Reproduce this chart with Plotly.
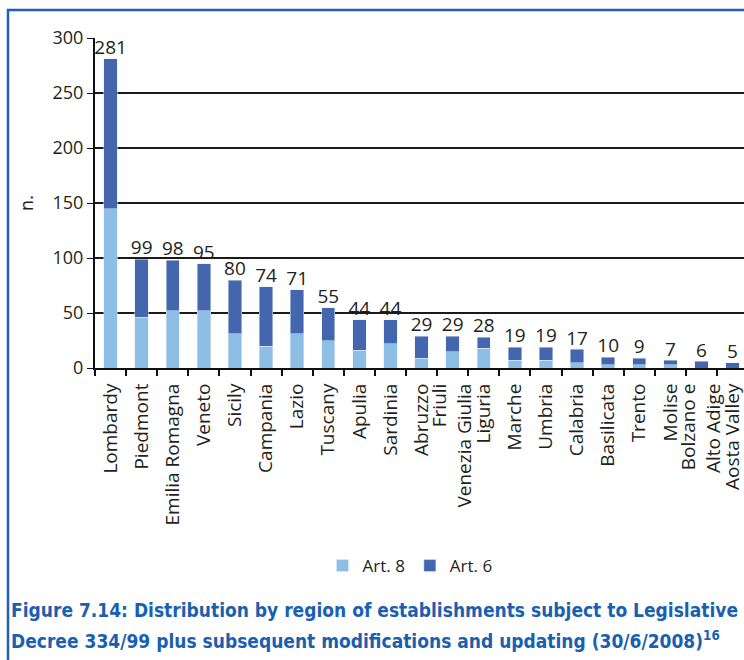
import plotly.graph_objects as go

regions = ["Lombardy", "Piedmont", "Emilia Romagna", "Veneto", "Sicily", "Campania",
           "Lazio", "Tuscany", "Apulia", "Sardinia", "Abruzzo", "Friuli<br>Venezia Giulia",
           "Liguria", "Marche", "Umbria", "Calabria", "Basilicata", "Trento", "Molise",
           "Bolzano e<br>Alto Adige", "Aosta Valley"]
totals = [281, 99, 98, 95, 80, 74, 71, 55, 44, 44, 29, 29, 28, 19, 19, 17, 10, 9, 7, 6, 5]
art8 = [145, 46, 52, 52, 31, 20, 31, 25, 16, 22, 9, 15, 18, 7, 7, 5, 3, 3, 3, 0, 0]
art6 = [t - a for t, a in zip(totals, art8)]
yticks = [0, 50, 100, 150, 200, 250, 300]

W, H = 744, 660
L, R, T, B = 95, 0, 38, 292
PW, PH = W - L - R, H - T - B

def px(x):
    return (x - L) / PW

def py(y):
    return (H - B - y) / PH

LIGHT = "#8dbee6"
DARK = "#4366af"
TXT = "#231f20"
FONT = "Open Sans"

fig = go.Figure()
fig.add_trace(go.Bar(x=regions, y=art8, name="Art. 8", marker_color=LIGHT, width=0.43))
fig.add_trace(go.Bar(x=regions, y=art6, name="Art. 6", marker_color=DARK, width=0.43))
fig.add_trace(go.Scatter(x=regions, y=totals, mode="text", text=[str(t) for t in totals],
                         textposition="top center", showlegend=False, hoverinfo="skip",
                         textfont=dict(size=19, color=TXT, family=FONT), cliponaxis=False))

fig.update_layout(
    width=W, height=H, barmode="stack",
    margin=dict(l=L, r=R, t=T, b=B),
    plot_bgcolor="white", paper_bgcolor="white",
    font=dict(family=FONT, color=TXT, size=16),
    legend=dict(orientation="h", x=px(410), xanchor="center", y=py(566), yanchor="middle",
                font=dict(size=17, family=FONT, color=TXT), traceorder="normal",
                itemwidth=30, tracegroupgap=0),
    showlegend=True,
)
fig.update_xaxes(range=[-0.5, -0.5 + PW / 31.1], tickangle=-90, tickson="boundaries",
                 ticks="outside", ticklen=6, tickcolor="#111", tickwidth=1.5,
                 showline=True, linecolor="#111", linewidth=2, ticklabelstandoff=6,
                 tickfont=dict(size=19, family=FONT, color=TXT), showgrid=False)
fig.update_yaxes(range=[0, 300], tickvals=yticks, showgrid=True, gridcolor="#1a1a1a",
                 gridwidth=1.5, showline=True, linecolor="#111", linewidth=2,
                 ticks="outside", ticklen=6, tickcolor="#111",
                 tickfont=dict(size=18, family=FONT, color=TXT),
                 title=dict(text="n.", font=dict(size=18, family=FONT, color=TXT), standoff=14),
                 zeroline=False)

# frame
fig.add_shape(type="rect", xref="paper", yref="paper",
              x0=px(8), x1=px(800), y0=py(720), y1=py(10),
              line=dict(color="#1f62b4", width=2.5), layer="above")

CAP = dict(family="DejaVu Sans Condensed", size=19, color="#1a5fb0")
fig.add_annotation(xref="paper", yref="paper", x=px(9), y=py(610), xanchor="left", yanchor="middle",
                   text="<b>Figure 7.14: Distribution by region of establishments subject to Legislative</b>",
                   showarrow=False, font=CAP)
fig.add_annotation(xref="paper", yref="paper", x=px(9), y=py(640), xanchor="left", yanchor="middle",
                   text="<b>Decree 334/99 plus subsequent modifications and updating (30/6/2008)<sup>16</sup></b>",
                   showarrow=False, font=CAP)

fig.write_html("out.html")
